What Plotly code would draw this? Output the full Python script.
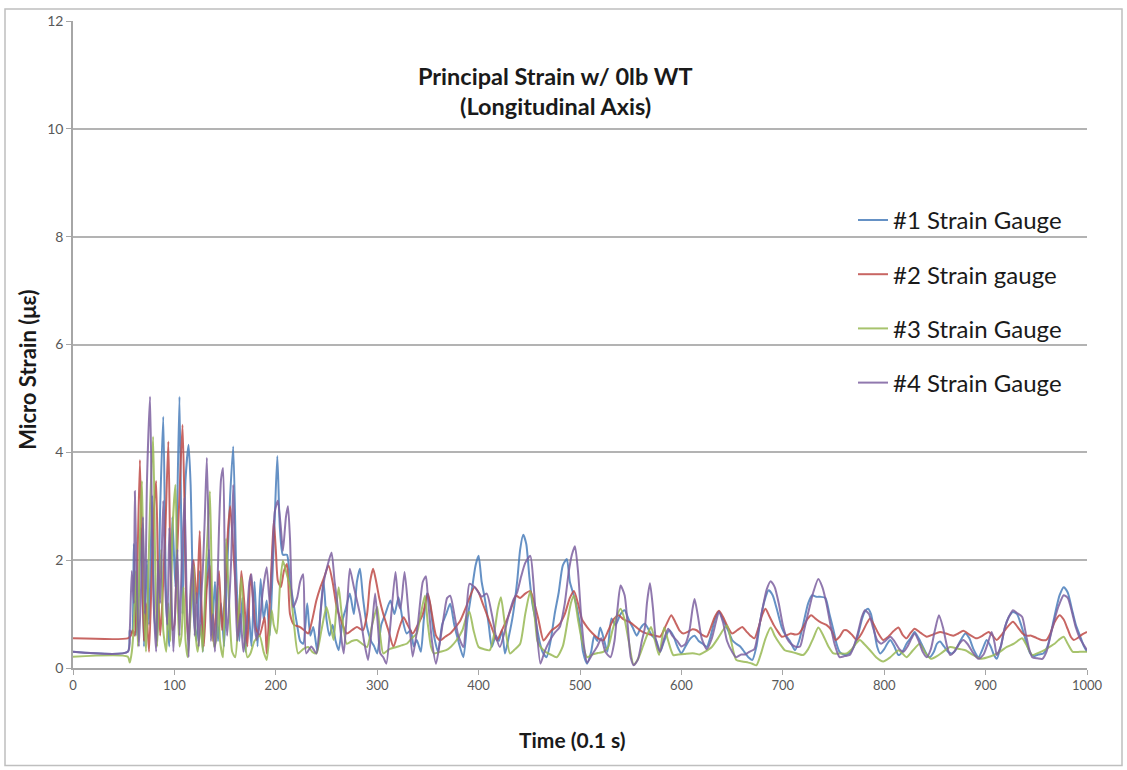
import plotly.graph_objects as go

# ---------------- data (time in 0.1 s, micro strain) ----------------
gauge1_points = [
(0,0.30),(54,0.30),(56,0.70),(58,0.65),(60,2.30),(62,0.60),(65,1.40),(67,2.60),(70,0.40),(73,2.00),
(75,0.80),(78,3.20),(80,1.00),(83,0.50),(86,3.00),(89,4.66),(92,1.20),(95,0.40),(98,2.80),(101,1.50),
(105,5.03),(108,1.00),(111,3.50),(114,4.14),(116,3.40),(119,1.00),(122,0.50),(125,1.80),(128,0.30),(131,1.40),
(134,2.20),(137,0.60),(140,1.60),(143,0.50),(146,1.20),(149,0.40),(152,1.80),(155,3.20),(158,4.11),(161,1.80),
(164,0.50),(167,1.30),(170,0.30),(173,1.10),(176,0.40),(179,1.60),(182,0.40),(185,1.65),(188,0.90),(191,1.25),
(194,0.60),(196,1.38),(199,2.80),(201.5,3.93),(204,2.60),(207,2.10),(211,2.10),(214,1.60),(217,1.25),(221,0.80),
(224,0.50),(227,0.45),(231,1.20),(234,0.60),(237,0.76),(241,0.30),(244,1.00),(247,1.62),(250,0.90),(253,0.60),
(256,0.80),(259,0.50),(262,0.33),(266,0.90),(269,1.10),(273,1.38),(277,1.00),(280,1.60),(283,1.84),(286,1.30),
(290,0.76),(294,0.50),(297,0.40),(300,0.27),(304,0.80),(308,1.00),(313,1.25),(317,1.00),(321,1.31),(325,0.90),
(329,0.64),(333,0.70),(336,0.40),(339,0.52),(343,0.30),(346,0.90),(349,1.38),(352,1.20),(356,0.60),(360,0.30),
(364,0.80),(368,1.00),(372,1.19),(376,0.80),(380,0.50),(385,0.20),(389,0.90),(393,1.40),(397,1.90),(400,2.08),
(403,1.60),(406,1.30),(410,0.80),(413,0.39),(417,0.60),(420,0.50),(423,0.70),(426,0.27),(430,0.60),(434,1.00),
(438,1.60),(441,2.20),(444,2.47),(447,2.30),(450,1.70),(453,1.20),(456,0.90),(460,0.50),(463,0.30),(467,0.20),
(471,0.50),(475,1.00),(479,1.40),(483,1.90),(487,2.02),(490,1.60),(493,1.40),(496,1.20),(500,0.80),(503,0.30),
(507,0.08),(511,0.30),(514,0.60),(517,0.50),(520,0.75),(524,0.50),(527,0.30),(531,0.92),(535,0.80),(540,1.00),
(544,1.07),(548,0.90),(552,0.75),(556,0.60),(560,0.75),(564,0.82),(568,0.70),(571,0.60),(575,0.52),(579,0.30),
(583,0.50),(588,0.70),(592,0.60),(596,0.40),(600,0.27),(604,0.40),(609,0.55),(613,0.60),(617,0.50),(621,0.45),
(625,0.39),(629,0.60),(633,0.90),(637,1.05),(641,0.90),(646,0.70),(650,0.52),(654,0.45),(658,0.40),(662,0.30),
(666,0.20),(670,0.15),(674,0.40),(678,0.90),(682,1.25),(686,1.44),(690,1.35),(694,1.10),(699,0.75),(703,0.60),
(707,0.50),(712,0.33),(716,0.50),(720,0.80),(725,1.20),(729,1.35),(733,1.32),(737,1.32),(742,1.30),(746,1.00),
(750,0.70),(753,0.45),(756,0.30),(761,0.24),(766,0.28),(770,0.39),(774,0.60),(778,0.90),(781,1.05),(784,1.10),
(787,1.00),(790,0.70),(793,0.40),(796,0.27),(800,0.35),(803,0.45),(806,0.52),(810,0.40),(814,0.24),(818,0.30),
(822,0.45),(826,0.55),(830,0.67),(834,0.55),(838,0.40),(842,0.25),(845,0.20),(849,0.30),(852,0.45),(855,0.49),
(859,0.40),(863,0.30),(867,0.27),(871,0.35),(875,0.50),(880,0.64),(884,0.55),(888,0.35),(893,0.20),(897,0.35),
(901,0.52),(905,0.40),(908,0.25),(911,0.17),(915,0.40),(919,0.75),(923,0.95),(927,1.04),(931,1.00),(935,0.80),
(939,0.55),(944,0.27),(948,0.22),(952,0.25),(957,0.27),(961,0.40),(965,0.70),(969,1.05),(973,1.35),(977,1.50),
(981,1.40),(985,1.10),(989,0.80),(993,0.60),(997,0.40),(1000,0.30),
]

gauge2_points = [
(0,0.55),(54,0.55),(57,0.60),(59,0.70),(61,0.60),(63,1.50),(66,3.86),(68,2.00),(70,0.50),(72,1.20),
(75,0.30),(78,2.00),(80,3.00),(82,3.47),(84,1.50),(86,0.60),(88,1.20),(91,2.50),(94,4.20),(96,2.00),
(98,0.70),(100,0.80),(102,1.80),(105,3.20),(108,4.51),(110,3.00),(112,1.00),(114,0.50),(116,1.30),(119,2.00),
(122,1.20),(125,2.54),(127,1.00),(129,0.40),(132,1.50),(135,1.90),(138,0.50),(141,1.00),(144,1.80),(147,0.70),
(150,1.40),(153,2.60),(155,3.00),(157,2.50),(160,1.60),(163,0.60),(166,1.80),(169,1.20),(172,0.40),(175,1.74),
(178,1.20),(180,0.76),(184,0.60),(189,0.94),(191,0.27),(194,1.20),(196,2.00),(198,2.73),(200,2.20),(202,1.62),
(205,1.50),(208,1.80),(211,1.93),(214,1.00),(218,0.80),(224,0.76),(228,0.70),(232,0.64),(236,0.90),(240,1.25),
(244,1.50),(248,1.70),(252,1.90),(256,1.60),(260,1.13),(264,0.90),(270,0.64),(275,0.70),(280,0.76),(286,0.70),
(290,1.00),(293,1.60),(296,1.84),(299,1.60),(302,1.30),(306,1.00),(311,0.70),(316,0.39),(321,0.70),(326,0.94),
(330,0.80),(335,0.64),(340,0.80),(345,1.00),(350,1.38),(354,1.00),(358,0.60),(362,0.51),(367,0.58),(372,0.64),
(377,0.75),(382,0.88),(387,1.10),(391,1.30),(396,1.50),(400,1.40),(404,1.20),(408,1.00),(413,0.75),(418,0.51),
(423,0.70),(428,0.90),(432,1.10),(437,1.34),(441,1.30),(446,1.38),(451,1.43),(455,1.20),(459,0.90),(464,0.51),
(468,0.60),(472,0.70),(476,0.75),(480,0.82),(485,1.00),(490,1.30),(494,1.43),(498,1.20),(502,0.90),(507,0.76),
(512,0.65),(518,0.55),(523,0.51),(528,0.70),(533,0.90),(538,0.98),(543,0.90),(549,0.85),(554,0.78),(559,0.70),
(564,0.65),(569,0.62),(574,0.60),(579,0.58),(585,0.80),(590,0.98),(594,0.85),(598,0.70),(602,0.64),(607,0.68),
(611,0.72),(615,0.70),(620,0.62),(625,0.58),(629,0.75),(633,0.95),(637,1.06),(641,0.95),(646,0.75),(650,0.64),
(655,0.70),(660,0.76),(664,0.68),(668,0.60),(672,0.55),(676,0.75),(680,1.00),(683,1.10),(687,0.95),(691,0.80),
(695,0.68),(699,0.58),(703,0.60),(708,0.64),(712,0.62),(716,0.64),(720,0.75),(724,0.90),(728,0.98),(732,0.92),
(737,0.85),(743,0.80),(748,0.70),(752,0.52),(756,0.58),(760,0.70),(763,0.70),(768,0.62),(773,0.52),(778,0.65),
(782,0.80),(786,0.92),(790,0.80),(794,0.65),(799,0.52),(804,0.58),(809,0.68),(814,0.75),(818,0.62),(822,0.55),
(826,0.65),(830,0.73),(836,0.65),(842,0.58),(848,0.62),(855,0.67),(861,0.64),(868,0.60),(873,0.64),(878,0.69),
(884,0.62),(891,0.55),(897,0.60),(903,0.67),(907,0.60),(911,0.52),(916,0.62),(921,0.75),(927,0.86),(932,0.75),
(936,0.65),(940,0.60),(945,0.60),(950,0.56),(955,0.52),(960,0.52),(964,0.65),(968,0.85),(973,0.98),(977,0.90),
(981,0.72),(984,0.58),(987,0.52),(991,0.56),(995,0.62),(1000,0.67),
]

gauge3_points = [
(0,0.21),(54,0.21),(56,0.10),(58,0.30),(60,0.80),(62,1.80),(64,0.40),(66,2.50),(68,3.47),(70,1.20),
(72,0.30),(74,1.50),(76,3.00),(79,4.29),(81,2.00),(83,0.40),(85,1.50),(87,2.20),(89,0.70),(92,0.30),
(94,1.20),(96,0.50),(98,2.50),(101,3.40),(103,1.50),(105,0.40),(107,0.60),(109,1.50),(111,0.50),(113,0.20),
(116,1.00),(119,1.90),(121,0.60),(123,0.30),(126,0.80),(128,0.30),(131,1.80),(133,2.60),(135,3.28),(137,1.50),
(139,0.40),(141,0.50),(143,1.50),(145,0.50),(148,0.20),(151,2.40),(154,1.20),(157,0.30),(160,0.20),(163,0.90),
(166,1.68),(169,0.60),(172,0.20),(175,0.27),(179,0.50),(184,0.60),(188,0.30),(191,0.15),(194,0.70),(196,1.07),
(198,0.80),(201,0.64),(204,1.50),(207,1.99),(210,1.80),(214,1.50),(218,0.80),(222,0.27),(227,0.35),(232,0.39),
(236,0.30),(240,0.27),(245,0.70),(250,1.13),(254,0.80),(257,0.52),(260,1.20),(262,1.50),(265,1.00),(270,0.45),
(275,0.50),(280,0.52),(285,0.45),(290,0.39),(295,0.80),(300,1.13),(303,0.60),(306,0.27),(312,0.35),(319,0.39),
(324,0.42),(329,0.45),(334,0.55),(339,0.64),(343,1.00),(347,1.34),(350,0.80),(353,0.40),(356,0.27),(362,0.30),
(368,0.33),(373,0.40),(378,0.51),(384,0.70),(388,0.95),(391,1.04),(395,0.70),(400,0.39),(405,0.35),(411,0.33),
(415,0.60),(419,1.10),(422,1.31),(426,0.80),(431,0.27),(436,0.35),(441,0.45),(446,1.00),(451,1.43),(455,1.00),
(458,0.50),(461,0.39),(466,0.30),(471,0.25),(477,0.20),(483,0.40),(488,0.90),(491,1.20),(494,1.34),(498,0.90),
(502,0.50),(507,0.20),(512,0.25),(518,0.28),(523,0.30),(528,0.40),(532,0.70),(536,0.95),(540,1.10),(544,0.90),
(548,0.50),(553,0.06),(558,0.20),(562,0.40),(566,0.60),(570,0.76),(574,0.50),(578,0.24),(583,0.75),(587,0.50),
(592,0.24),(597,0.25),(603,0.26),(608,0.27),(613,0.27),(618,0.25),(623,0.30),(630,0.39),(636,0.55),(641,0.70),
(645,0.79),(649,0.50),(654,0.15),(660,0.12),(666,0.10),(670,0.08),(674,0.05),(679,0.30),(683,0.55),(688,0.75),
(692,0.60),(697,0.45),(702,0.33),(708,0.30),(714,0.27),(720,0.24),(725,0.35),(730,0.55),(735,0.75),(740,0.60),
(745,0.40),(750,0.27),(756,0.27),(763,0.27),(768,0.35),(772,0.45),(776,0.52),(780,0.45),(786,0.33),(792,0.20),
(799,0.12),(806,0.20),(814,0.33),(818,0.27),(822,0.20),(828,0.32),(835,0.45),(840,0.30),(846,0.17),(852,0.22),
(858,0.30),(865,0.39),(872,0.36),(880,0.33),(887,0.25),(895,0.17),(902,0.20),(908,0.24),(914,0.30),(921,0.39),
(928,0.45),(936,0.55),(941,0.40),(946,0.24),(952,0.28),(958,0.33),(963,0.39),(968,0.45),(972,0.52),(977,0.58),
(981,0.45),(986,0.30),(993,0.30),(1000,0.30),
]

gauge4_points = [
(0,0.30),(54,0.30),(56,0.70),(58,1.80),(60,1.20),(61,3.28),(63,1.50),(65,0.40),(67,1.40),(69,2.80),
(71,1.00),(73,3.50),(76,5.03),(78,2.50),(80,1.00),(82,0.30),(84,2.00),(86,1.20),(89,3.10),(91,1.50),
(93,0.80),(95,2.60),(97,1.40),(99,0.30),(101,1.20),(103,2.20),(105,0.60),(107,1.80),(110,3.16),(112,1.40),
(114,0.20),(116,1.50),(118,2.00),(120,0.60),(122,1.40),(124,0.40),(126,1.20),(128,1.80),(130,2.80),(132,3.90),
(134,2.20),(136,0.50),(138,1.00),(140,0.30),(142,1.20),(144,2.60),(146,3.50),(148,3.71),(150,1.50),(152,0.60),
(154,1.20),(156,2.00),(158,3.40),(160,1.60),(162,0.50),(165,1.00),(168,0.30),(171,0.80),(174,1.60),(176,1.74),
(178,1.00),(181,0.52),(184,0.80),(187,1.40),(191,1.87),(194,1.20),(197,2.20),(199,2.90),(202,3.10),(205,2.60),
(207,2.17),(210,2.80),(212,3.00),(214,2.40),(217,1.13),(221,1.30),(224,1.60),(227,1.74),(230,0.27),(235,0.40),
(240,0.27),(244,1.00),(247,1.56),(251,1.90),(255,2.14),(258,1.60),(262,1.00),(265,0.50),(267,0.27),(270,1.00),
(273,1.84),(277,1.50),(283,1.00),(287,0.50),(291,0.15),(295,0.80),(298,1.38),(301,0.70),(303,0.27),(306,0.20),
(309,0.08),(313,0.80),(318,1.78),(321,1.20),(323,1.10),(327,1.78),(331,1.00),(335,0.21),(340,0.80),(345,1.60),
(348,1.70),(350,1.30),(354,0.50),(358,0.08),(362,0.50),(366,1.00),(369,1.30),(372,1.34),(376,1.00),(380,0.60),
(385,0.39),(388,1.00),(391,1.56),(396,1.50),(400,1.40),(403,1.32),(408,1.38),(413,1.00),(417,0.60),(421,0.39),
(426,0.70),(430,1.00),(434,1.25),(438,1.40),(442,1.70),(446,1.95),(451,2.08),(454,1.60),(457,0.80),(461,0.08),
(465,0.30),(470,0.50),(475,0.65),(480,0.76),(485,1.20),(489,1.80),(492,2.10),(495,2.26),(498,1.80),(501,1.00),
(504,0.40),(507,0.10),(512,0.25),(517,0.40),(521,0.55),(525,0.30),(530,0.20),(534,0.50),(537,1.10),(540,1.53),
(544,1.35),(547,0.80),(550,0.20),(553,0.05),(557,0.15),(561,0.50),(564,0.75),(566,1.20),(569,1.57),(572,1.10),
(575,0.50),(579,0.30),(583,0.55),(587,0.73),(591,0.60),(596,0.50),(600,0.40),(604,0.45),(608,0.70),(611,1.10),
(613,1.28),(616,1.00),(620,0.55),(625,0.35),(630,0.55),(634,0.85),(637,1.04),(641,0.85),(645,0.50),(650,0.30),
(654,0.20),(659,0.25),(663,0.25),(667,0.30),(672,0.35),(676,0.70),(680,1.10),(684,1.45),(688,1.61),(692,1.50),
(696,1.20),(700,0.80),(704,0.55),(708,0.45),(712,0.40),(717,0.40),(721,0.70),(726,1.10),(730,1.40),(735,1.65),
(739,1.50),(743,1.20),(747,0.80),(751,0.45),(756,0.20),(761,0.22),(766,0.24),(770,0.40),(774,0.65),(778,0.95),
(781,1.07),(785,1.00),(789,0.75),(793,0.52),(797,0.45),(801,0.50),(806,0.58),(810,0.50),(815,0.35),(819,0.30),
(823,0.40),(827,0.55),(830,0.64),(834,0.50),(838,0.30),(842,0.20),(846,0.35),(850,0.70),(854,0.98),(858,0.75),
(862,0.40),(865,0.24),(869,0.30),(874,0.45),(878,0.52),(882,0.45),(887,0.30),(893,0.17),(898,0.25),(902,0.45),
(906,0.67),(909,0.45),(911,0.24),(915,0.40),(919,0.75),(923,0.95),(927,1.07),(931,1.02),(936,0.95),(940,0.60),
(943,0.35),(946,0.20),(951,0.18),(956,0.17),(960,0.30),(964,0.60),(968,0.90),(972,1.15),(977,1.35),(981,1.30),
(985,1.05),(989,0.75),(993,0.55),(997,0.42),(1000,0.33),
]

series_names = ["#1 Strain Gauge", "#2 Strain gauge", "#3 Strain Gauge", "#4 Strain Gauge"]
series_points = [gauge1_points, gauge2_points, gauge3_points, gauge4_points]
series_colors = ["rgba(74,126,187,0.85)", "rgba(190,75,72,0.85)", "rgba(152,185,84,0.85)", "rgba(125,96,160,0.85)"]

x_ticks = [0, 100, 200, 300, 400, 500, 600, 700, 800, 900, 1000]
y_ticks = [0, 2, 4, 6, 8, 10, 12]

FONT = "Lato, 'Open Sans', sans-serif"

fig = go.Figure()
for name, pts, col in zip(series_names, series_points, series_colors):
    fig.add_trace(go.Scatter(
        x=[p[0] for p in pts], y=[p[1] for p in pts], mode="lines", name=name,
        legendgroup=name,
        line=dict(color=col, width=2, shape="spline", smoothing=0.6),
    ))

# plot region: left 73px, right 1087px, top 17px, bottom 668px
L, R, T, B = 73, 1087, 17, 668
W, H = 1127, 770

def px(x):
    return (x - L) / (R - L)

def py(y):
    return (B - y) / (B - T)

def label(text, x, y, size, angle=0):
    return dict(text=text, x=px(x), y=py(y), xref="paper", yref="paper",
                xanchor="center", yanchor="middle", showarrow=False, textangle=angle,
                font=dict(family=FONT, size=size, color="#1a1a1a"))

fig.update_layout(
    width=W, height=H,
    margin=dict(l=L, r=W - R, t=T, b=H - B),
    paper_bgcolor="white", plot_bgcolor="white",
    font=dict(family=FONT, color="#595959"),
    showlegend=True,
    legend=dict(
        x=px(853), y=py(195), xanchor="left", yanchor="top",
        bgcolor="rgba(0,0,0,0)", font=dict(family=FONT, size=24, color="#1a1a1a"),
        tracegroupgap=20, traceorder="grouped", itemwidth=30,
    ),
    xaxis=dict(
        range=[0, 1000], tickvals=x_ticks, ticks="outside", ticklen=5, tickcolor="#a6a6a6",
        showline=True, linecolor="#a6a6a6", linewidth=1.5, showgrid=False, zeroline=False,
        tickfont=dict(size=13, color="#595959"),
    ),
    yaxis=dict(
        range=[0, 12], tickvals=y_ticks, ticks="outside", ticklen=5, tickcolor="#a6a6a6",
        showline=True, linecolor="#a6a6a6", linewidth=1.5, showgrid=True, gridcolor="#b3b3b3", gridwidth=1.5,
        zeroline=False, tickfont=dict(size=14, color="#595959"),
    ),
    annotations=[
        label("<b>Principal Strain w/ 0lb WT</b>", 555, 72, 23.5),
        label("<b>(Longitudinal Axis)</b>", 555, 103, 23.5),
        label("<b>Micro Strain (με)</b>", 28, 368, 22, -90),
        label("<b>Time (0.1 s)</b>", 572, 740, 21),
    ],
    shapes=[
        dict(type="rect", xref="paper", yref="paper", x0=px(5), x1=px(1122), y0=py(766), y1=py(5),
             line=dict(color="#bfbfbf", width=1.5), layer="below"),
    ],
)

fig.write_html("out.html")
